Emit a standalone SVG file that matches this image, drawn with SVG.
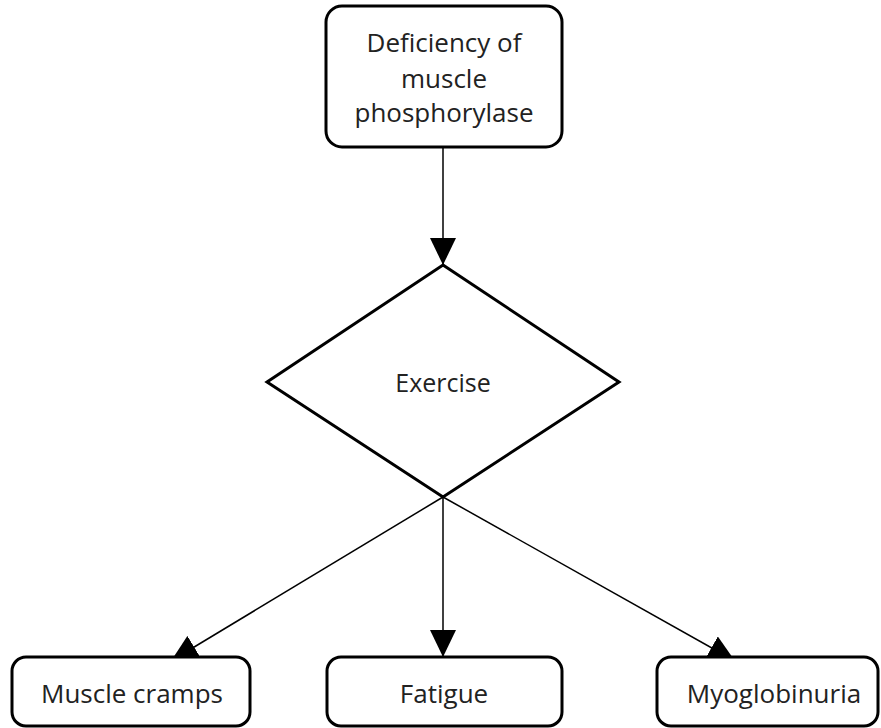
<svg xmlns="http://www.w3.org/2000/svg" width="881" height="728" viewBox="0 0 881 728">
  <style>
    .box { fill: #ffffff; stroke: #000000; stroke-width: 3; }
    .lbl { font-family: "Open Sans", "Noto Sans", "DejaVu Sans", sans-serif; font-size: 26px; fill: #222222; text-anchor: middle; }
    .edge { stroke: #000000; stroke-width: 1.5; fill: none; marker-end: url(#arrow); }
  </style>
  <defs>
    <marker id="arrow" viewBox="0 0 27 26" refX="27" refY="13" markerWidth="27" markerHeight="26" markerUnits="userSpaceOnUse" orient="auto">
      <path d="M0,0 L27,13 L0,26 Z" fill="#000000"/>
    </marker>
  </defs>
  <rect width="881" height="728" fill="#ffffff"/>

  <g id="connectors">
    <line class="edge" x1="443" y1="147" x2="443" y2="265"/>
    <line class="edge" x1="443" y1="497" x2="171" y2="661"/>
    <line class="edge" x1="443" y1="497" x2="443" y2="657"/>
    <line class="edge" x1="443" y1="497" x2="735" y2="661"/>
  </g>

  <g id="deficiency">
    <rect class="box" x="326" y="6" width="236" height="141" rx="16"/>
    <text class="lbl" x="444" y="52">Deficiency of</text>
    <text class="lbl" x="444" y="88">muscle</text>
    <text class="lbl" x="444" y="122">phosphorylase</text>
  </g>

  <g id="exercise">
    <polygon class="box" points="443,265 619,382 443,497 267,382"/>
    <text class="lbl" x="443" y="392" style="font-size:25px">Exercise</text>
  </g>

  <g id="cramps">
    <rect class="box" x="12" y="657" width="238" height="69" rx="14"/>
    <text class="lbl" x="132" y="703">Muscle cramps</text>
  </g>

  <g id="fatigue">
    <rect class="box" x="327" y="657" width="235" height="69" rx="14"/>
    <text class="lbl" x="444" y="703">Fatigue</text>
  </g>

  <g id="myoglobinuria">
    <rect class="box" x="657" y="657" width="221" height="69" rx="14"/>
    <text class="lbl" x="774" y="703">Myoglobinuria</text>
  </g>
</svg>
